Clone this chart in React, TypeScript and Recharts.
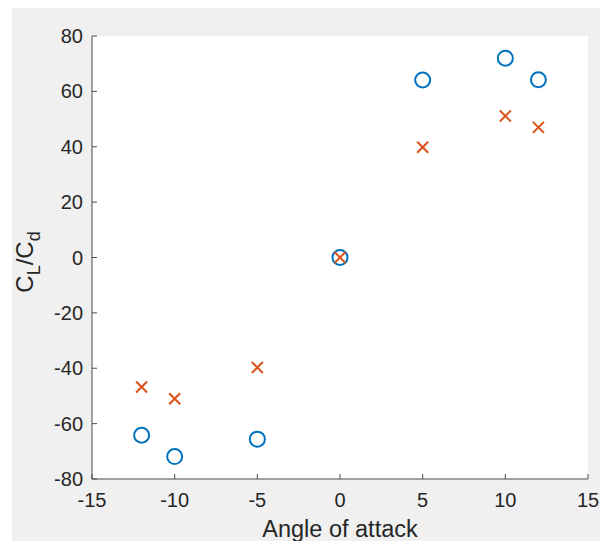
import { ScatterChart, Scatter, XAxis, YAxis, CartesianGrid } from "recharts";

const angles = [-12, -10, -5, 0, 5, 10, 12];
const circleRatio = [-64.2, -71.9, -65.6, 0, 64.1, 72, 64.2];
const crossRatio = [-46.8, -51, -39.7, 0, 39.8, 51.1, 47];

const xTicks = [-15, -10, -5, 0, 5, 10, 15];
const yTicks = [-80, -60, -40, -20, 0, 20, 40, 60, 80];

const circleData = angles.map((a, i) => ({ x: a, y: circleRatio[i] }));
const crossData = angles.map((a, i) => ({ x: a, y: crossRatio[i] }));

const FONT = '"Liberation Sans", Arial, Helvetica, sans-serif';
const AXIS = "#4d4d4d";
const TEXT = "#262626";
const BLUE = "#0072BD";
const ORANGE = "#D95319";

function CircleMark({ cx, cy }: { cx?: number; cy?: number }) {
  return <circle cx={cx} cy={cy} r={7.5} fill="none" stroke={BLUE} strokeWidth={2} />;
}

function CrossMark({ cx, cy }: { cx?: number; cy?: number }) {
  const s = 5.5;
  return (
    <g stroke={ORANGE} strokeWidth={2}>
      <line x1={cx! - s} y1={cy! - s} x2={cx! + s} y2={cy! + s} />
      <line x1={cx! - s} y1={cy! + s} x2={cx! + s} y2={cy! - s} />
    </g>
  );
}

// rotated C_L/C_d label, drawn at fixed spot left of the y ticks
function YLabel() {
  return (
    <text
      x={21}
      y={254}
      transform="rotate(-90, 21, 254)"
      textAnchor="middle"
      fill={TEXT}
      fontSize={24}
      fontFamily={FONT}
    >
      <tspan>C</tspan>
      <tspan fontSize={18} dy={7}>L</tspan>
      <tspan dy={-7}>/C</tspan>
      <tspan fontSize={18} dy={7}>d</tspan>
    </text>
  );
}

const tickStyle = { fill: TEXT, fontSize: 20, fontFamily: FONT };
const blank = () => "";

export default function App() {
  return (
    <div style={{ marginLeft: 4, width: 596, height: 533, background: "#f0f0f0" }}>
      <ScatterChart
        width={596}
        height={533}
        margin={{ top: 28, right: 20, bottom: 4, left: 20 }}
      >
        <CartesianGrid fill="#ffffff" horizontal={false} vertical={false} />
        <XAxis
          type="number"
          dataKey="x"
          domain={[-15, 15]}
          ticks={xTicks}
          height={58}
          stroke={AXIS}
          tickSize={-5}
          tickMargin={19}
          tick={tickStyle}
          label={{
            value: "Angle of attack",
            position: "insideBottom",
            offset: 0,
            fontSize: 23.5,
            fill: TEXT,
            fontFamily: FONT,
          }}
        />
        <XAxis
          xAxisId="top"
          orientation="top"
          type="number"
          domain={[-15, 15]}
          ticks={xTicks}
          height={0}
          stroke={AXIS}
          tickSize={-5}
          tickFormatter={blank}
        />
        <YAxis
          type="number"
          dataKey="y"
          domain={[-80, 80]}
          ticks={yTicks}
          width={60}
          stroke={AXIS}
          tickSize={-5}
          tickMargin={14}
          tick={tickStyle}
          label={<YLabel />}
        />
        <YAxis
          yAxisId="right"
          orientation="right"
          type="number"
          domain={[-80, 80]}
          ticks={yTicks}
          width={0}
          stroke={AXIS}
          tickSize={-5}
          tickFormatter={blank}
        />
        <Scatter data={circleData} shape={<CircleMark />} isAnimationActive={false} />
        <Scatter data={crossData} shape={<CrossMark />} isAnimationActive={false} />
      </ScatterChart>
    </div>
  );
}
